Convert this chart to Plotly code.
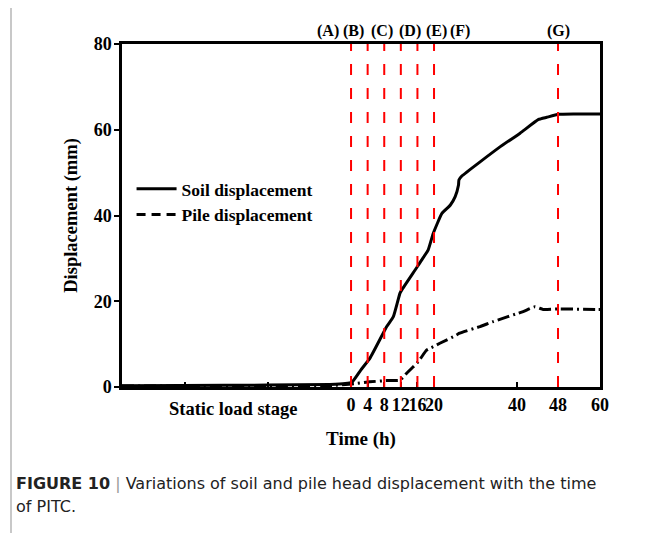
import plotly.graph_objects as go

# ---------------- data ----------------
soil_t = [-55.2, -40.5, -20.2, -5.1, -1.4, 0.2, 2.3, 4.6, 8.6, 10.2, 11.8, 12.2, 16.0, 17.0,
          18.6, 19.8, 21.9, 23.9, 25.1, 25.9, 26.0, 26.7, 35.9, 40.6, 44.2, 45.8, 48.1, 52.4, 60.0]
soil_v = [0.3, 0.35, 0.45, 0.6, 0.8, 1.1, 3.9, 6.8, 14.1, 16.4, 21.9, 22.6, 28.1, 29.6,
          32.0, 35.8, 40.5, 42.4, 44.4, 47.1, 48.3, 49.2, 56.0, 59.2, 62.4, 62.9, 63.6, 63.7, 63.7]

pile_t = [-55.2, -40.5, -20.2, -5.1, 0.3, 4.5, 8.6, 11.8, 13.4, 16.2, 18.2, 19.8, 21.4,
          25.4, 26.0, 31.1, 34.1, 41.2, 43.5, 45.1, 48.4, 59.1, 60.0]
pile_v = [0.25, 0.25, 0.3, 0.35, 0.7, 1.2, 1.5, 1.6, 3.2, 5.9, 8.6, 9.4, 10.2,
          12.1, 12.5, 14.1, 15.2, 17.6, 18.7, 18.1, 18.2, 18.1, 18.1]

stage_times = [0, 4, 8, 12, 16, 20, 48]
stage_labels = ["(A)", "(B)", "(C)", "(D)", "(E)", "(F)", "(G)"]
stage_label_t = [-5.5, 0.5, 7.5, 14.2, 20.7, 26.3, 48]

tick_times = [-40, -20, 0, 4, 8, 12, 16, 20, 40, 48, 60]
tick_text = ["", "", "0", "4", "8", "12", "16", "20", "40", "48", "60"]

y_ticks = [0, 20, 40, 60, 80]


# broken time scale of the original figure (40-48 h stretched, 48-60 h compressed)
def axis_pos(t):
    if t <= 40:
        return t
    if t <= 48:
        return 40 + (t - 40) * (41 / 8) / 4.15
    return 40 + 41 / 4.15 + (t - 48) * (42 / 12) / 4.15


FONT = "Liberation Serif"
W, H = 648, 533
OFF = 8  # page body margin
L, R, T, B = 122 - OFF, 48 + OFF, 44 - OFF, 146 + OFF

fig = go.Figure()

fig.add_trace(go.Scatter(
    x=[axis_pos(t) for t in soil_t], y=soil_v, mode="lines",
    line=dict(color="black", width=3, shape="spline", smoothing=0.4),
    name="<b>Soil displacement</b>"))
fig.add_trace(go.Scatter(
    x=[axis_pos(t) for t in pile_t], y=pile_v, mode="lines",
    line=dict(color="black", width=3, dash="12px,4px,2px,4px", shape="spline", smoothing=0.4),
    name="<b>Pile displacement</b>", showlegend=False))
# legend entry for the pile (dashed sample as in the original)
fig.add_trace(go.Scatter(
    x=[None], y=[None], mode="lines",
    line=dict(color="black", width=3, dash="9px,6px"),
    name="<b>Pile displacement</b>"))

for t in stage_times:
    fig.add_shape(type="line", xref="x", yref="paper",
                  x0=axis_pos(t), x1=axis_pos(t), y0=0, y1=1,
                  line=dict(color="#ff0000", width=2, dash="11px,13px"), layer="above")

for lab, t in zip(stage_labels, stage_label_t):
    fig.add_annotation(x=axis_pos(t), xref="x", y=1.0, yref="paper", yanchor="bottom", yshift=2,
                       text="<b>%s</b>" % lab, showarrow=False,
                       font=dict(family=FONT, size=16, color="black"))

fig.add_annotation(x=-28.4, xref="x", y=0, yref="paper", yanchor="middle", yshift=-22,
                   text="<b>Static load stage</b>", showarrow=False,
                   font=dict(family=FONT, size=18.5, color="black"))

# caption (pixel positions relative to the page)
px = lambda x: (x - OFF - L) / (W - L - R)
py = lambda y: (H - B - (y - OFF)) / (H - T - B)
fig.add_annotation(x=px(14), y=py(483), xref="paper", yref="paper", xanchor="left", yanchor="middle",
                   text="<b>FIGURE 10</b> <span style='color:#999'>|</span> Variations of soil and pile head displacement with the time",
                   showarrow=False, align="left",
                   font=dict(family="DejaVu Sans", size=16, color="#222"))
fig.add_annotation(x=px(14), y=py(506), xref="paper", yref="paper", xanchor="left", yanchor="middle",
                   text="of PITC.", showarrow=False, align="left",
                   font=dict(family="DejaVu Sans", size=16, color="#222"))
fig.add_shape(type="line", xref="paper", yref="paper", x0=px(11), x1=px(11), y0=py(0), y1=py(545),
              line=dict(color="#c8c8c8", width=2))

fig.update_layout(
    width=W, height=H,
    margin=dict(l=L, r=R, t=T, b=B),
    plot_bgcolor="white", paper_bgcolor="white",
    font=dict(family=FONT, size=18, color="black"),
    showlegend=True,
    legend=dict(x=0.02, y=0.63, xanchor="left", yanchor="top",
                bgcolor="rgba(0,0,0,0)", tracegroupgap=0,
                font=dict(family=FONT, size=17.5, color="black"),
                itemwidth=40),
    xaxis=dict(range=[-55.2, 60], tickmode="array",
               tickvals=[axis_pos(t) for t in tick_times],
               ticktext=["<b>%s</b>" % s if s else "" for s in tick_text],
               tickangle=0, tickfont=dict(family=FONT, size=18),
               ticks="inside", ticklen=5, tickwidth=1.5, tickcolor="black",
               showline=True, linecolor="black", linewidth=2.5, mirror=True,
               showgrid=False, zeroline=False,
               title=dict(text="<b>Time (h)</b>", standoff=18,
                          font=dict(family=FONT, size=19))),
    yaxis=dict(range=[0, 80], tickmode="array", tickvals=y_ticks,
               ticktext=["<b>%d</b>" % v for v in y_ticks],
               tickfont=dict(family=FONT, size=18),
               ticks="outside", ticklen=5, tickwidth=1.5, tickcolor="black",
               ticklabelstandoff=-1,
               showline=True, linecolor="black", linewidth=2.5, mirror=True,
               showgrid=False, zeroline=False,
               title=dict(text="<b>Displacement (mm)</b>", standoff=12,
                          font=dict(family=FONT, size=18.5))),
)

fig.write_html("out.html")
